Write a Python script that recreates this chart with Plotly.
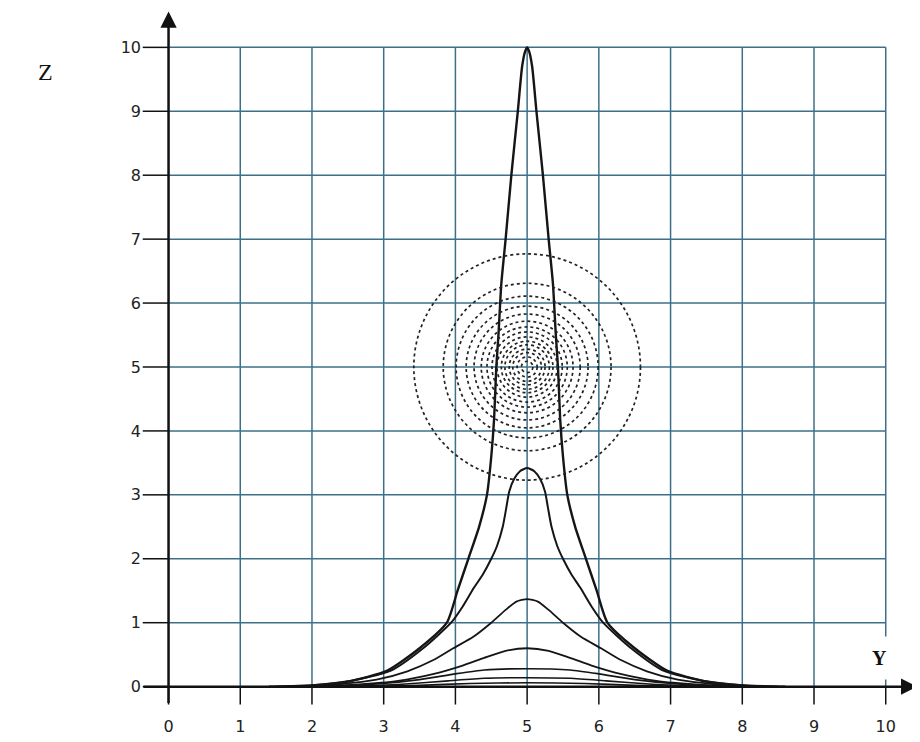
import plotly.graph_objects as go

# ---------------- data ----------------
tick_vals = list(range(11))
x_tick_labels = [str(t) for t in tick_vals]
z_tick_labels = [str(t) for t in tick_vals]

peak_y = 5.0
# half profiles (offset from the peak, height)
a_dy = [0, 0.03, 0.07, 0.13, 0.22, 0.30, 0.36, 0.40, 0.43, 0.46, 0.50, 0.56, 0.67, 0.82, 0.97, 1.12, 1.50, 1.95, 2.50, 3.00, 3.60]
a_z = [10, 9.93, 9.7, 9.0, 8.0, 7.0, 6.3, 5.5, 5.0, 4.2, 3.6, 3.0, 2.5, 2.0, 1.5, 1.0, 0.6, 0.25, 0.08, 0.02, 0]
b_dy = [0, 0.10, 0.18, 0.25, 0.29, 0.34, 0.42, 0.50, 0.62, 0.74, 0.90, 1.06, 1.45, 1.90, 2.50, 3.00, 3.50]
b_z = [3.42, 3.37, 3.25, 3.05, 2.8, 2.5, 2.2, 2.0, 1.75, 1.55, 1.25, 1.0, 0.6, 0.25, 0.08, 0.02, 0]
c_dy = [0, 0.15, 0.30, 0.50, 0.75, 1.03, 1.30, 1.67, 2.10, 2.60, 3.20]
c_z = [1.37, 1.33, 1.20, 1.00, 0.78, 0.60, 0.42, 0.24, 0.11, 0.04, 0]
d_dy = [0, 0.30, 0.60, 0.90, 1.30, 1.80, 2.40, 3.00]
d_z = [0.60, 0.56, 0.45, 0.33, 0.20, 0.09, 0.03, 0]
e_dy = [0, 0.60, 1.00, 1.50, 2.10, 2.80]
e_z = [0.28, 0.26, 0.20, 0.11, 0.04, 0]
f_dy = [0, 0.60, 1.10, 1.70, 2.50]
f_z = [0.14, 0.13, 0.09, 0.04, 0]
g_dy = [0, 0.80, 1.50, 2.30]
g_z = [0.06, 0.05, 0.02, 0]

profiles = [(a_dy, a_z, 2.4), (b_dy, b_z, 2.0), (c_dy, c_z, 1.8),
            (d_dy, d_z, 1.8), (e_dy, e_z, 1.6), (f_dy, f_z, 1.6), (g_dy, g_z, 1.6)]

# concentric dotted contours around (5, 5): radii along Y (horizontal) axis
ring_center_y = 5.0
ring_center_z = 5.0
ring_radius_y = [1.58, 1.17, 0.99, 0.85, 0.74, 0.64, 0.56, 0.49, 0.42, 0.36, 0.31, 0.25, 0.20, 0.14, 0.08]
ring_z_stretch = 1.12

# ---------------- figure ----------------
fig = go.Figure()

for dy, z, w in profiles:
    xs = [peak_y - d for d in reversed(dy)] + [peak_y + d for d in dy[1:]]
    zs = list(reversed(z)) + list(z[1:])
    fig.add_trace(go.Scatter(x=xs, y=zs, mode="lines",
                             line=dict(color="#151515", width=w, shape="spline", smoothing=0.6),
                             hoverinfo="skip", showlegend=False))

shapes = []
grid_color = "#3d7087"
# grid
for t in tick_vals[1:]:
    shapes.append(dict(type="line", xref="x", yref="y", x0=t, x1=t, y0=0, y1=10,
                       line=dict(color=grid_color, width=1.5), layer="below"))
    shapes.append(dict(type="line", xref="x", yref="y", x0=0, x1=10, y0=t, y1=t,
                       line=dict(color=grid_color, width=1.5), layer="below"))
# tick dashes
for t in tick_vals:
    shapes.append(dict(type="line", xref="x", yref="y", x0=-0.36, x1=0, y0=t, y1=t,
                       line=dict(color="#111", width=1.5)))
    shapes.append(dict(type="line", xref="x", yref="y", x0=t, x1=t, y0=0, y1=-0.28,
                       line=dict(color="#111", width=1.5)))
# rings
for r in ring_radius_y:
    rz = r * ring_z_stretch
    shapes.append(dict(type="circle", xref="x", yref="y",
                       x0=ring_center_y - r, x1=ring_center_y + r,
                       y0=ring_center_z - rz, y1=ring_center_z + rz,
                       line=dict(color="#222", width=1.7, dash="dot")))

annotations = [
    # Z axis arrow
    dict(x=0, y=10.56, ax=0, ay=-0.28, xref="x", yref="y", axref="x", ayref="y",
         text="", showarrow=True, arrowhead=2, arrowsize=1.3, arrowwidth=2.5, arrowcolor="#111"),
    # Y axis arrow
    dict(x=10.44, y=0, ax=-0.37, ay=0, xref="x", yref="y", axref="x", ayref="y",
         text="", showarrow=True, arrowhead=2, arrowsize=1.3, arrowwidth=2.5, arrowcolor="#111"),
    dict(x=-0.137, y=0.932, xref="paper", yref="paper", text="Z", showarrow=False,
         font=dict(family="Liberation Serif", size=24, color="#111")),
    dict(x=9.92, y=0.45, xref="x", yref="y", text="<b>Y</b>", showarrow=False,
         bgcolor="white", borderpad=10,
         font=dict(family="Liberation Serif", size=20, color="#111")),
]

fig.update_layout(
    width=912, height=734,
    margin=dict(l=134, r=2, t=1, b=33),
    paper_bgcolor="white", plot_bgcolor="white",
    shapes=shapes, annotations=annotations,
    showlegend=False,
    xaxis=dict(range=[-0.37, 10.45], tickvals=tick_vals, ticktext=x_tick_labels,
               showgrid=False, zeroline=False, showline=False, ticks="",
               ticklabelstandoff=6,
               tickfont=dict(family="DejaVu Sans", size=16, color="#222")),
    yaxis=dict(range=[-0.35, 10.6], tickvals=tick_vals, ticktext=z_tick_labels,
               showgrid=False, zeroline=False, showline=False, ticks="",
               tickfont=dict(family="DejaVu Sans", size=16, color="#222")),
)

fig.write_html("out.html")
